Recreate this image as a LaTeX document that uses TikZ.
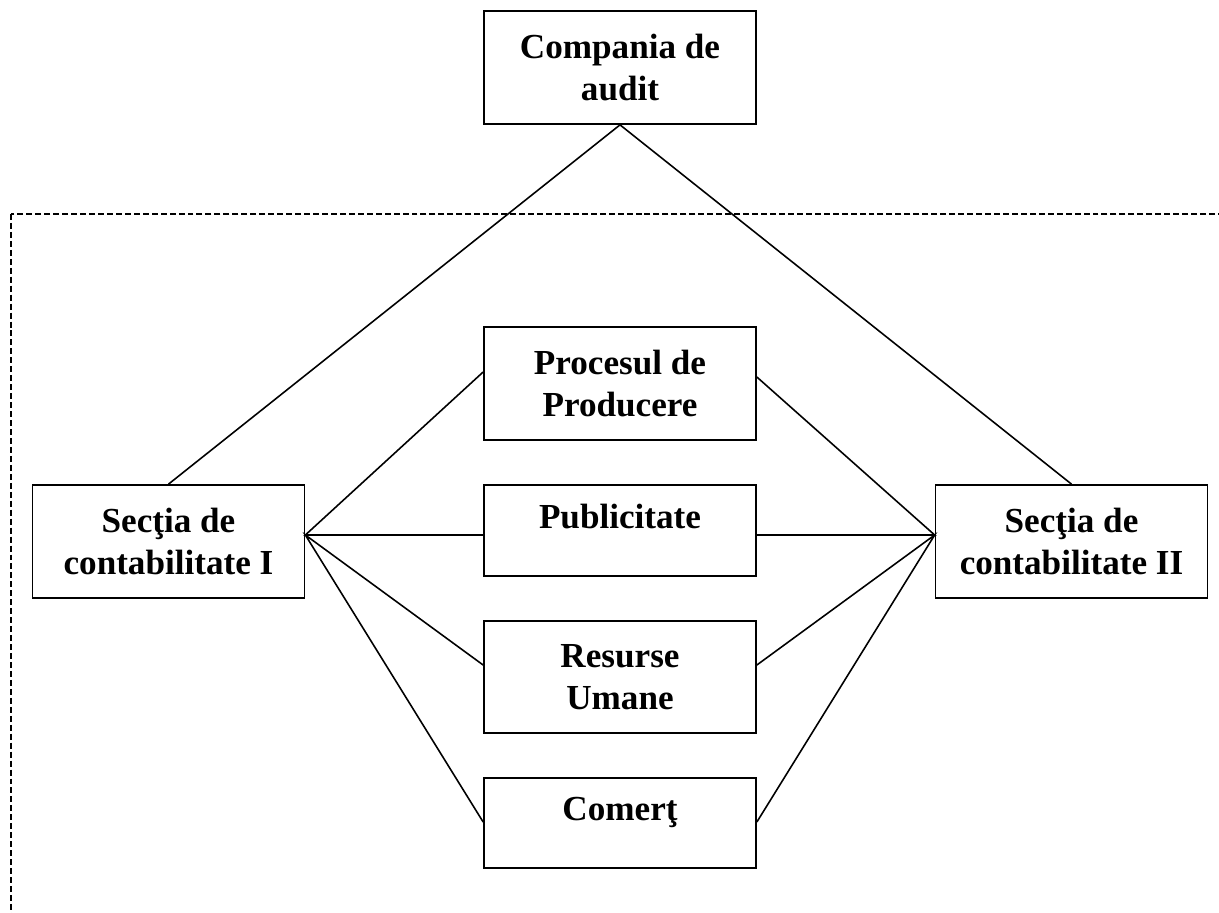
\documentclass[tikz,border=0pt]{standalone}
\usepackage{fontspec}
\setmainfont{Liberation Serif}
\tikzset{
  box/.style={draw, line width=1pt, minimum width=5.44cm, minimum height=2.26cm, align=center, inner sep=0pt, font=\fontsize{20}{24}\selectfont\bfseries},
  onebox/.style={box, text height=0.5cm, text depth=0.6cm},
  link/.style={line width=0.9pt}
}
\begin{document}
\begin{tikzpicture}[x=0.02cm,y=-0.02cm]
	\useasboundingbox (0,0) rectangle (1219,912);
	\clip (0,0) rectangle (1219,912);
	% dashed frame, runs off the page
	\draw[dash pattern=on 3.4pt off 1.7pt, line width=1.3pt] (11,214) rectangle (1240,940);

	\node[box] (audit) at (620,67.5) {Compania de\\audit};
	\node[box] (sec1) at (168.5,541.5) {Secţia de\\contabilitate I};
	\node[box] (sec2) at (1071.5,541.5) {Secţia de\\contabilitate II};
	\node[box] (proc) at (620,383.5) {Procesul de\\Producere};
	\node[onebox, minimum height=1.82cm] (publ) at (620,530.5) {Publicitate};
	\node[box, minimum height=2.24cm] (res) at (620,677) {Resurse\\Umane};
	\node[onebox, minimum height=1.8cm] (com) at (620,823) {Comerţ};

	\draw[link] (sec1.north) -- (audit.south) -- (sec2.north);
	\draw[link] ([yshift=0.23cm]proc.west) -- ([yshift=0.13cm]sec1.east) -- ([yshift=-0.09cm]publ.west);
	\draw[link] ([yshift=0.24cm]res.west) -- ([yshift=0.13cm]sec1.east) -- ([yshift=0.02cm]com.west);
	\draw[link] ([yshift=0.13cm]proc.east) -- ([yshift=0.13cm]sec2.west) -- ([yshift=-0.09cm]publ.east);
	\draw[link] ([yshift=0.24cm]res.east) -- ([yshift=0.13cm]sec2.west) -- ([yshift=0.02cm]com.east);
\end{tikzpicture}
\end{document}
